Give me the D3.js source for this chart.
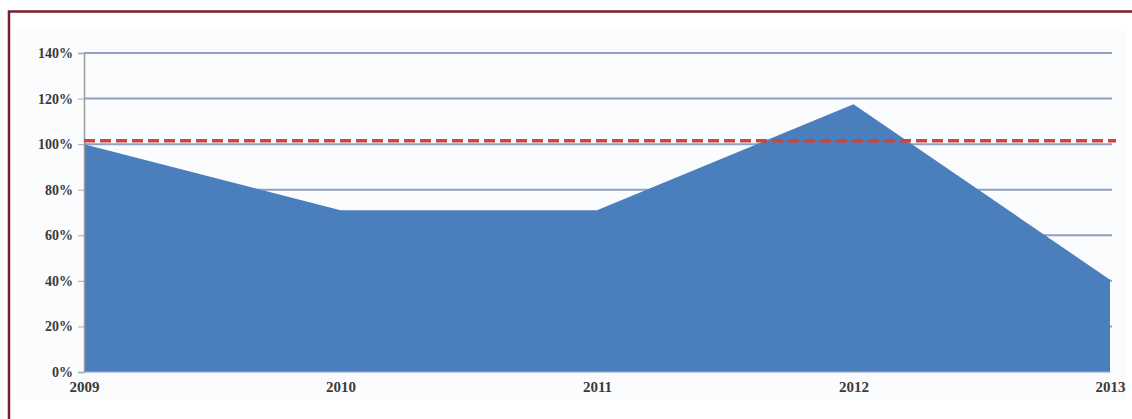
<!DOCTYPE html>
<html><head><meta charset="utf-8">
<script src="https://cdn.jsdelivr.net/npm/d3@7"></script>
<style>html,body{margin:0;padding:0;background:#fff;}svg{display:block;}</style>
</head><body><svg id="c" width="1132" height="419"></svg>
<script>
const years = ["2009","2010","2011","2012","2013"];
const values = [100, 71, 71, 117.5, 40.5];
const targetValue = 101.5;
const yTicks = [0,20,40,60,80,100,120,140];

const svg = d3.select("#c");
// outer frame
svg.append("rect").attr("x",9).attr("y",11.5).attr("width",1160).attr("height",440)
  .attr("fill","#fff").attr("stroke","#7a1f2e").attr("stroke-width",2.5);
// faint chart background
svg.append("rect").attr("x",16).attr("y",30).attr("width",1110).attr("height",370).attr("fill","#fbfcfe");

const x = d3.scalePoint().domain(years).range([84,1110]);
const y = d3.scaleLinear().domain([0,140]).range([372,53]);

// gridlines
svg.append("g").selectAll("line").data(yTicks.filter(d=>d>0)).join("line")
  .attr("x1",84).attr("x2",1112).attr("y1",d=>y(d)).attr("y2",d=>y(d))
  .attr("stroke","#8fa1c2").attr("stroke-width",2);

// area
const area = d3.area().x((d,i)=>x(years[i])).y0(y(0)).y1(d=>y(d));
svg.append("path").datum(values).attr("d",area).attr("fill","#4a7ebd");

// y axis
const ya = svg.append("g").attr("transform","translate(84,0)")
  .call(d3.axisLeft(y).tickValues(yTicks).tickFormat(d=>d+"%").tickSize(6).tickPadding(5));
ya.select(".domain").attr("stroke","#9a9a9a").attr("stroke-width",1.5);
ya.selectAll(".tick line").attr("stroke","#aaa");
ya.selectAll("text").attr("font-family","Liberation Serif, serif").attr("font-weight","bold")
  .attr("font-size",14).attr("fill","#3a3a3a");

// x axis
const xa = svg.append("g").attr("transform","translate(0,372)")
  .call(d3.axisBottom(x).tickSize(0).tickPadding(9));
xa.select(".domain").attr("stroke","#c8d3e6").attr("stroke-width",1.5);
xa.selectAll("text").attr("font-family","Liberation Serif, serif").attr("font-weight","bold")
  .attr("font-size",15).attr("fill","#3a3a3a");

// target dashed line
svg.append("line").attr("x1",84).attr("x2",1116).attr("y1",y(targetValue)).attr("y2",y(targetValue))
  .attr("stroke","#c9463b").attr("stroke-width",3.5).attr("stroke-dasharray","11,5");
</script></body></html>
